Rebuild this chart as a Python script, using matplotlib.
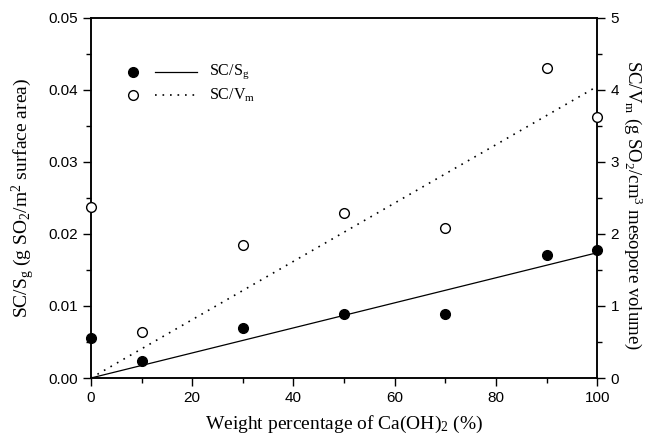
import numpy as np
import matplotlib
matplotlib.use('agg')
import matplotlib.pyplot as plt

plt.rcParams['mathtext.fontset'] = 'custom'
plt.rcParams['mathtext.rm'] = 'Liberation Serif'
plt.rcParams['mathtext.it'] = 'Liberation Serif:italic'

### data
wt_pct = [0, 10, 30, 50, 70, 90, 100]
sc_sg = [0.0055, 0.0024, 0.0069, 0.0089, 0.0089, 0.0171, 0.0178]
sc_vm = [2.38, 0.64, 1.85, 2.29, 2.08, 4.31, 3.63]

fit_x = [0, 100]
fit_sg = [0, 0.0174]
fit_vm = [0, 4.05]

serif = 'Liberation Serif'
sans = 'Liberation Sans'

fig = plt.figure(figsize=(6.45, 4.37), dpi=100)
ax = fig.add_axes([0.141, 0.135, 0.785, 0.824])
ax2 = ax.twinx()

ax.plot(wt_pct, sc_sg, 'o', color='black', ms=7, clip_on=False, zorder=5)
ax.plot(fit_x, fit_sg, '-', color='black', lw=0.9)
ax2.plot(wt_pct, sc_vm, 'o', mfc='white', mec='black', mew=1.0, ms=7, clip_on=False, zorder=5)
ax2.plot(fit_x, fit_vm, color='black', lw=1.2, dashes=(1, 3.5))

ax.set_xlim(0, 100)
ax.set_ylim(0, 0.05)
ax2.set_ylim(0, 5)

ax.set_xticks(np.arange(0, 101, 20))
ax.set_xticks(np.arange(10, 100, 20), minor=True)
ax.set_yticks(np.arange(0, 0.051, 0.01))
ax.set_yticks(np.arange(0.005, 0.05, 0.01), minor=True)
ax2.set_yticks(np.arange(0, 5.1, 1))
ax2.set_yticks(np.arange(0.5, 5, 1), minor=True)
ax.set_yticklabels(['%.2f' % v for v in np.arange(0, 0.051, 0.01)])

for a in (ax, ax2):
    a.tick_params(which='major', direction='out', length=6, width=1, labelsize=11)
    a.tick_params(which='minor', direction='out', length=3.5, width=1)
    for lbl in a.get_xticklabels() + a.get_yticklabels():
        lbl.set_fontfamily(sans)
    for s in a.spines.values():
        s.set_linewidth(1.1)
ax.tick_params(top=False, right=False)

ax.set_xlabel(r'Weight percentage of Ca(OH)$_{2}$ (%)', fontfamily=serif, fontsize=14, labelpad=6)
ax.set_ylabel(r'SC/S$_{\mathrm{g}}$ (g SO$_{2}$/m$^{2}$ surface area)', fontfamily=serif, fontsize=14, labelpad=8)
# right label placed by hand so it stays inside the figure
fig.text(0.982, 0.53, r'SC/V$_{\mathrm{m}}$ (g SO$_{2}$/cm$^{3}$ mesopore volume)', fontfamily=serif,
         fontsize=13.5, rotation=270, ha='center', va='center')

# legend drawn by hand like the original
ax.plot([8.3], [0.0425], 'o', color='black', ms=7)
ax.plot([12.6, 20.9], [0.0425, 0.0425], '-', color='black', lw=0.9)
ax.text(23.3, 0.0425, r'SC/S$_{\mathrm{g}}$', fontfamily=serif, fontsize=11.5, va='center')
ax.plot([8.3], [0.0393], 'o', mfc='white', mec='black', ms=7)
ax.plot([12.6, 20.9], [0.0393, 0.0393], color='black', lw=1.2, dashes=(1, 3.5))
ax.text(23.3, 0.0393, r'SC/V$_{\mathrm{m}}$', fontfamily=serif, fontsize=11.5, va='center')

plt.savefig('out.png', dpi=100)
plt.close()
